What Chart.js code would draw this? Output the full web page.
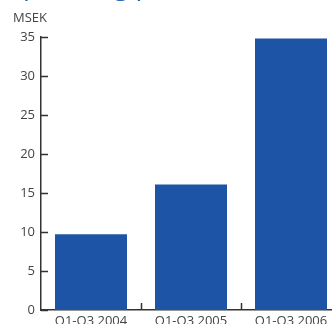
<!DOCTYPE html>
<html>
<head>
<meta charset="utf-8">
<script src="https://cdn.jsdelivr.net/npm/chart.js@4.4.0/dist/chart.umd.min.js"></script>
<style>
  html, body { margin: 0; padding: 0; width: 332px; height: 324px; overflow: hidden; background: #fff; }
  #wrap { position: relative; width: 345px; height: 340px; }
  #title { position: absolute; left: 2px; top: -35px; font: 27px "Open Sans", sans-serif; color: #1a63ad; white-space: nowrap; }
  #unit { position: absolute; left: 13px; top: 8px; font: 13px "Open Sans", sans-serif; color: #444; }
</style>
</head>
<body>
<div id="wrap">
  <div id="title">Operating profit</div>
  <div id="unit">MSEK</div>
  <canvas id="myChart" width="345" height="340"></canvas>
</div>
<script>
const categories = ['Q1-Q3 2004', 'Q1-Q3 2005', 'Q1-Q3 2006']
const profit = [9.7, 16.1, 34.8]
const yTicks = [0, 5, 10, 15, 20, 25, 30, 35]

const axisColor = '#333'

// short tick marks drawn inward from the axes
const innerTicks = {
    id: 'innerTicks',
    afterDraw(chart) {
        const ctx = chart.ctx
        const x = chart.scales.x
        const y = chart.scales.y
        const area = chart.chartArea
        ctx.save()
        ctx.strokeStyle = axisColor
        ctx.lineWidth = 1.5
        ctx.beginPath()
        for (const v of yTicks) {
            const py = Math.round(y.getPixelForValue(v)) + 0.5
            ctx.moveTo(area.left, py)
            ctx.lineTo(area.left + 7, py)
        }
        for (let i = 1; i < categories.length; i++) {
            const px = Math.round((x.getPixelForTick(i) + x.getPixelForTick(i - 1)) / 2) + 0.5
            ctx.moveTo(px, area.bottom)
            ctx.lineTo(px, area.bottom - 7)
        }
        ctx.stroke()
        ctx.restore()
    }
}

const profitChart = new Chart(document.querySelector('#myChart').getContext('2d'), {
    type: 'bar',
    data: {
        labels: categories,
        datasets: [{
            label: 'MSEK',
            data: profit,
            backgroundColor: '#1e54a5',
            categoryPercentage: 1,
            barPercentage: 0.72
        }]
    },
    options: {
        responsive: false,
        animation: false,
        layout: { padding: { top: 37, right: 4 } },
        plugins: { legend: { display: false }, tooltip: { enabled: false } },
        scales: {
            x: {
                grid: { display: false, drawTicks: false },
                border: { color: axisColor, width: 1.5 },
                ticks: { color: '#444', font: { family: 'Open Sans', size: 13 }, padding: 3, maxRotation: 0, autoSkip: false },
                afterFit(scale) { scale.height = 30 }
            },
            y: {
                min: 0,
                max: 35,
                grid: { display: false, drawTicks: false },
                border: { color: axisColor, width: 1.5 },
                ticks: { stepSize: 5, color: '#444', font: { family: 'Open Sans', size: 13 }, padding: 6 },
                afterFit(scale) { scale.width = 41 }
            }
        }
    },
    plugins: [innerTicks]
})
</script>
</body>
</html>
